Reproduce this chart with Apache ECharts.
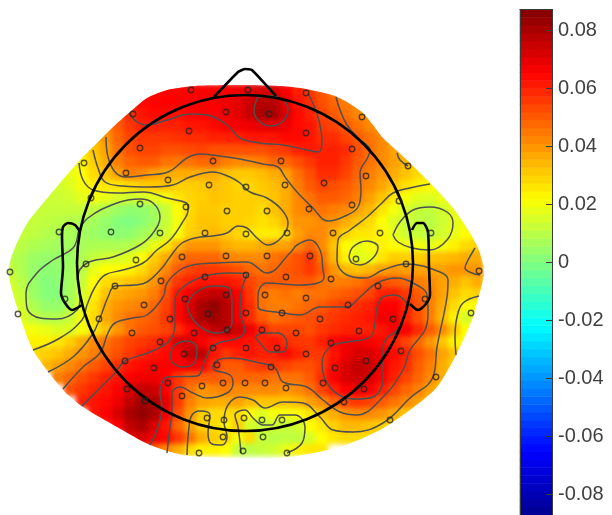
<!DOCTYPE html>
<html>
<head>
<meta charset="utf-8">
<style>
html,body{margin:0;padding:0;background:#fff}
#chart{width:612px;height:515px}
#chart canvas[data-zr-dom-id="zr_0"]{filter:blur(2.6px)}
#chart canvas[data-zr-dom-id="zr_1"]{filter:blur(0.4px)}
</style>
<script src="https://cdn.jsdelivr.net/npm/echarts@6/dist/echarts.min.js"></script>
</head>
<body>
<div id="chart"></div>
<script>
// Scalp map values in thousandths, one row per 12 px band, first cell at heatRowStart
const heatRowStart = [11,9,8,7,6,5,4,3,3,2,1,0,0,0,0,0,0,0,0,0,1,1,2,3,4,5,6,7,8,10,10];
const row090 = [62,64,65,65,65,66,66,67,68,70,72,72,66,60,56,50,45,42,40];
const row102 = [55,60,64,65,66,66,66,66,66,68,70,74,78,78,70,62,58,52,48,44,42,40];
const row114 = [46,52,58,62,64,64,63,65,66,66,68,70,75,80,80,72,64,60,54,50,46,42,40,38];
const row126 = [35,42,50,56,60,60,60,60,62,62,64,66,67,68,70,70,68,64,62,56,54,50,46,42,38,36];
const row138 = [28,33,40,48,54,56,56,56,57,58,58,60,60,60,62,62,62,64,64,62,58,58,54,50,46,42,38];
const row150 = [20,26,32,38,46,52,54,54,52,52,53,54,52,52,52,52,52,54,56,60,61,60,60,58,52,46,42,38,35];
const row162 = [16,19,24,30,36,44,48,50,50,46,45,46,48,48,44,42,42,44,48,48,52,56,60,60,56,50,46,42,38,34,30];
const row174 = [14,16,18,22,28,32,38,44,42,38,36,36,36,36,36,33,31,31,33,36,38,46,52,58,58,54,48,44,40,36,32,28,24,22];
const row186 = [14,14,16,20,24,26,26,28,30,31,32,30,30,31,33,31,29,29,31,33,36,44,50,54,52,50,46,42,37,32,27,24,22,20,18];
const row198 = [12,13,13,14,17,20,18,15,14,15,17,20,26,29,30,32,31,30,30,30,32,36,42,46,50,50,48,44,38,32,26,20,17,16,18,18,18];
const row210 = [12,12,12,12,12,12,11,8,5,3,3,6,12,22,28,31,31,30,30,30,28,32,36,42,44,46,44,42,38,34,26,20,15,12,11,14,18,20,22];
const row222 = [12,12,12,11,10,9,8,6,4,1,0,2,6,12,20,29,32,32,30,30,29,27,29,34,40,40,42,40,36,32,28,22,16,13,11,10,13,17,20,22];
const row234 = [13,12,11,9,8,7,6,5,3,2,3,6,9,14,21,30,32,34,32,29,26,25,25,28,38,42,42,36,29,26,26,23,18,13,12,11,14,18,22,24];
const row246 = [12,10,8,7,6,6,7,8,8,8,9,12,18,26,34,40,40,40,36,34,34,36,38,38,42,48,42,32,22,18,20,24,22,20,20,18,20,24,28,30];
const row258 = [10,8,5,4,4,5,8,12,14,15,17,22,30,36,44,48,48,48,44,42,42,42,46,48,52,56,46,34,24,17,18,26,30,30,30,32,33,34,36,36];
const row270 = [12,8,4,2,3,6,10,18,22,22,24,28,34,42,50,54,56,56,54,52,48,46,48,50,52,56,50,40,34,32,34,38,40,38,38,38,38,40,40,40];
const row282 = [14,10,4,1,2,6,12,22,28,30,32,34,40,48,56,60,62,62,62,60,54,50,50,50,50,50,46,44,44,46,50,52,50,48,44,42,38,36,32,36];
const row294 = [16,12,5,1,1,6,14,24,32,36,38,40,44,52,62,68,74,76,75,66,56,46,44,46,44,46,46,48,50,52,54,60,60,56,50,44,38,32,28,30];
const row306 = [18,14,8,4,4,8,17,27,36,40,42,44,48,54,64,72,80,84,78,68,58,46,44,44,46,48,50,54,56,58,60,66,66,60,52,44,36,28,22,22];
const row318 = [19,16,12,9,9,13,20,28,36,42,46,48,50,56,64,72,80,82,78,68,58,50,46,48,50,52,54,56,58,60,62,68,68,60,52,44,34,24,15,18];
const row330 = [20,20,18,16,16,20,26,32,40,46,50,52,54,58,64,70,76,78,74,68,60,54,54,54,52,56,58,60,60,60,62,66,66,58,50,42,32,22,15,15];
const row342 = [24,24,24,26,30,36,42,46,50,54,56,58,62,72,72,66,62,64,64,62,60,62,58,56,56,60,65,68,68,66,64,60,54,48,40,32,24,20];
const row354 = [28,30,32,36,40,44,48,52,56,60,62,64,66,76,76,62,56,60,62,60,60,64,60,56,56,62,68,72,72,68,64,60,52,46,38,32,26];
const row366 = [34,38,42,46,50,54,58,62,64,66,66,66,68,66,58,50,50,54,56,56,54,52,52,56,64,72,76,74,68,62,58,50,44,36,30];
const row378 = [44,48,52,56,60,62,66,68,68,66,56,50,50,50,48,48,48,48,46,46,46,50,58,66,72,74,72,66,60,54,48,42,36,30];
const row390 = [52,56,60,62,66,72,76,74,66,56,46,40,42,44,42,42,42,42,40,42,46,54,60,66,68,66,60,54,48,44,38,32];
const row402 = [60,62,64,68,76,82,80,70,56,44,38,36,36,38,34,32,32,32,34,38,42,48,54,56,54,50,46,42,38,34];
const row414 = [62,66,72,80,84,80,68,52,40,30,28,28,28,22,16,20,20,22,26,32,36,40,42,42,40,36,32,30];
const row426 = [60,66,76,80,72,62,48,38,30,28,24,30,14,12,14,12,14,22,26,30,34,34,32,30,28];
const row438 = [70,72,68,64,56,46,36,30,28,20,28,12,10,11,11,15,22,26,28,28,28,26];
const row450 = [60,54,48,42,36,28,24,24,22,12,10,12,14,18,24,26,26];
const row462 = [58,52,46,40,34,28,24,22,20,12,10,12,14,18,24,26,26];
const heatRows = [row090,row102,row114,row126,row138,row150,row162,row174,row186,row198,row210,row222,row234,row246,row258,row270,row282,row294,row306,row318,row330,row342,row354,row366,row378,row390,row402,row414,row426,row438,row450,row462];
const heatColumnCount = 41;

// Colour bar
const colorbarLevels = [-85.8,-83.1,-80.4,-77.6,-74.9,-72.2,-69.5,-66.7,-64.0,-61.3,-58.6,-55.9,-53.1,-50.4,-47.7,-45.0,-42.2,-39.5,-36.8,-34.1,-31.3,-28.6,-25.9,-23.2,-20.4,-17.7,-15.0,-12.3,-9.5,-6.8,-4.1,-1.4,1.4,4.1,6.8,9.5,12.3,15.0,17.7,20.4,23.2,25.9,28.6,31.3,34.1,36.8,39.5,42.2,45.0,47.7,50.4,53.1,55.9,58.6,61.3,64.0,66.7,69.5,72.2,74.9,77.6,80.4,83.1,85.8];
const colorbarTicks = [-0.08,-0.06,-0.04,-0.02,0,0.02,0.04,0.06,0.08];
const colorLimit = 0.0872;
const jetColors = ['#00008f','#0000ff','#0080ff','#00ffff','#80ff80','#ffff00','#ff8000','#ff0000','#800000'];

// Electrode locations
const electrodes = [[191,90],[248,90],[133,114],[226,112],[189,131],[140,148],[213,161],[84,163],[126,173],[168,180],[209,185],[246,187],[91,198],[140,204],[186,207],[227,211],[59,232],[111,232],[160,233],[205,233],[246,234],[86,264],[136,260],[182,257],[226,256],
[306,93],[269,114],[362,117],[306,133],[352,149],[281,161],[408,166],[366,176],[324,183],[285,185],[399,201],[352,205],[309,209],[267,211],[287,233],[333,233],[380,233],[431,233],[356,259],[310,256],[267,256],[406,264],[479,271],
[10,272],[115,286],[161,281],[205,277],[246,275],[65,299],[144,305],[185,299],[226,295],[18,314],[99,319],[170,319],[208,314],[246,313],[132,333],[194,333],[227,330],[160,342],[184,354],[213,348],[246,348],[125,361],[154,368],[217,365],[168,383],[202,386],[223,383],[245,383],[127,389],[145,401],[182,396],[207,418],[224,420],[244,418],[223,437],[199,453],[243,451],
[286,277],[331,279],[265,295],[306,298],[378,286],[425,299],[348,305],[282,313],[320,319],[393,319],[471,313],[262,330],[296,333],[359,331],[277,348],[331,343],[401,351],[306,354],[366,361],[335,368],[271,367],[265,383],[323,383],[286,388],[436,377],[364,389],[344,402],[390,420],[262,420],[282,420],[263,437],[287,453]];

// Contour lines
const contourTopRed = [[129,113],[137,122],[147,125],[167,120],[190,114],[207,115],[227,125],[240,138],[260,143],[283,145],[307,150],[318,152],[322,143],[318,117],[308,93]];
const contourFrontPeak = [[258,97],[254,110],[258,120],[270,126],[282,122],[288,110],[283,100],[270,96],[258,97]];
const contourFrontOrange = [[106,137],[108,157],[115,172],[126,177],[147,175],[168,172],[187,158],[200,154],[227,157],[240,159],[263,164],[278,167],[285,177],[297,192],[312,207],[328,221],[343,217],[358,207],[361,190],[360,173],[368,157],[370,150],[358,138],[347,125],[340,110],[336,97]];
const contourLeftOrange = [[93,150],[98,168],[105,182],[123,186],[150,187],[173,185],[190,177],[213,172],[230,177],[240,183],[250,192],[267,198],[282,210],[288,223],[282,237],[268,245],[257,238],[247,228],[238,226],[227,233],[213,236],[200,237],[182,243],[170,257],[162,268],[147,282],[135,285],[115,286],[108,297],[100,318],[92,335],[73,357],[48,372]];
const contourYellow = [[79,163],[83,180],[93,190],[117,193],[143,192],[167,198],[188,205],[188,210],[182,223],[170,240],[157,250],[143,263],[123,270],[105,275],[95,287],[87,305],[82,320],[60,338],[33,350]];
const contourGreen = [[78,233],[88,218],[117,203],[140,199],[153,203],[160,217],[153,233],[140,245],[113,257],[87,263],[78,277],[79,290],[80,298],[77,310],[57,319],[40,318],[27,308],[26,293],[37,273],[53,260],[73,248],[78,233]];
const contourCentre = [[63,389],[83,367],[100,353],[108,333],[115,323],[133,318],[147,315],[163,297],[167,283],[180,270],[193,265],[217,263],[247,262],[267,273],[290,253],[297,245],[310,240],[320,250],[323,270],[324,277],[318,283],[300,285],[267,283],[258,295],[258,307],[283,313],[300,315],[320,307],[347,307],[360,297],[377,283],[397,278],[413,283],[427,295],[428,313],[425,330],[410,350],[403,370],[383,397],[357,415],[340,412],[323,400],[307,387],[283,382],[275,368],[260,363],[230,358],[218,360],[213,367],[214,370],[230,375],[233,383],[227,393],[207,398],[193,393],[180,387],[172,393],[172,415],[170,427],[167,453]];
const contourRed = [[82,406],[100,388],[115,373],[125,361],[150,352],[170,340],[175,323],[175,300],[183,287],[205,276],[230,273],[247,274],[241,293],[240,313],[245,330],[238,338],[218,343],[210,350],[205,360],[197,376],[167,377],[162,383],[160,393],[162,407],[158,427],[150,445]];
const contourPeakMain = [[187,305],[195,293],[213,286],[227,287],[232,303],[232,323],[218,333],[205,330],[192,318],[187,305]];
const contourPeakSmall = [[170,355],[175,345],[187,341],[197,348],[195,362],[183,367],[173,363],[170,355]];
const contourMidLoop = [[255,337],[263,333],[278,333],[287,343],[283,352],[270,352],[260,343],[255,337]];
const contourRearYellow = [[187,455],[189,427],[192,415],[200,411],[210,415],[208,433],[212,444],[222,445],[227,437],[224,422],[228,405],[240,397],[253,400],[265,408],[283,402],[303,403],[320,417],[333,430],[353,432],[383,423],[410,398],[433,377],[437,347],[447,297],[448,280],[440,272],[406,264],[383,270],[365,278],[347,275],[337,260],[338,240],[350,230],[367,217],[382,203],[393,193],[410,188],[430,184]];
const contourRearGreen = [[241,453],[238,427],[235,415],[245,410],[253,418],[263,425],[272,425],[280,415],[295,415],[305,427],[302,443],[287,453]];
const contourEarRight = [[393,235],[400,222],[413,210],[430,207],[447,212],[453,223],[447,240],[430,250],[412,248],[398,242],[393,235]];
const contourTempRight = [[349,257],[353,247],[367,241],[378,247],[373,258],[360,265],[352,263],[349,257]];
const contourEdgeRight = [[475,248],[467,262],[465,268],[472,273],[480,275]];
const contourEdgeLow = [[479,296],[463,303],[457,317],[455,337],[456,355]];
const contourPariRed = [[407,303],[395,295],[383,297],[377,307],[375,323],[370,337],[347,342],[330,347],[322,363],[327,383],[343,397],[357,399],[373,397],[383,380],[383,347],[387,338],[397,330],[405,315],[407,303]];
const contourCorner = [[397,153],[400,160],[408,166]];
const contours = [contourTopRed,contourFrontPeak,contourFrontOrange,contourLeftOrange,contourYellow,contourGreen,contourCentre,contourRed,contourPeakMain,contourPeakSmall,contourMidLoop,contourRearYellow,contourRearGreen,contourEarRight,contourTempRight,contourEdgeRight,contourEdgeLow,contourPariRed,contourCorner];

// Head cartoon
const headCentre = [245,263];
const headRadius = 168;
const headNose = [[214,97],[238,72],[245,69],[252,70],[276,96]];
const headEarLeft = [[80,232],[75,225],[68,223],[63,227],[62,237],[63,267],[61,293],[65,303],[72,310],[82,305]];
const headEarRight = [[412,230],[417,223],[423,223],[428,232],[429,267],[430,295],[425,305],[418,310],[410,304]];

// Interpolation skirt outline, clockwise from the left
const skirtOutline = [[8,272],[10,262],[16,245],[28,222],[40,207],[60,183],[80,160],[97,143],[113,127],[130,112],[147,98],[167,90],[185,87],[200,85.5],[240,85],[280,86],[300,88],[320,92],[335,96],[347,102],[363,113],[373,125],[383,138],[407,160],[430,183],[453,208],[470,233],[478,248],[482,260],[484,272],[482,285],[478,298],[473,317],[457,353],[437,387],[410,410],[380,430],[340,447],[290,457],[260,458.5],[227,458],[183,455],[150,445],[117,427],[83,407],[63,390],[33,350],[17,307],[10,282]];
const maskFrame = [[0,272],[0,0],[510,0],[510,515],[0,515],[0,272]];

const heatData = [];
heatRows.forEach((row, r) => {
  row.forEach((v, k) => heatData.push([heatRowStart[r] + k, r, v / 1000]));
});
const colorbarData = colorbarLevels.map((v, k) => [0, k, v / 1000]);
const seq = n => Array.from({length:n}, (_, k) => String(k));

const chart = echarts.init(document.getElementById('chart'), null, {renderer:'canvas', width:612, height:515});
const plain = {show:false};
const lineSeries = (pts, width, color, z, smooth) => ({
  type:'line', xAxisIndex:1, yAxisIndex:1, data:pts, showSymbol:false, symbol:'none', smooth:smooth,
  clip:false, silent:true, zlevel:1, z:z, lineStyle:{color:color, width:width}
});

chart.setOption({
  animation:false,
  backgroundColor:'#ffffff',
  tooltip:{show:false},
  visualMap:{show:false, type:'continuous', seriesIndex:[0,1], dimension:2, min:-colorLimit, max:colorLimit, inRange:{color:jetColors}},
  grid:[
    {left:4, top:84, width:492, height:384},
    {left:0, top:0, width:612, height:515},
    {left:520, top:9.5, width:32, height:507},
    {left:520, top:9.5, width:32, height:507}
  ],
  xAxis:[
    {type:'category', gridIndex:0, data:seq(heatColumnCount), ...plain},
    {type:'value', gridIndex:1, min:0, max:612, ...plain},
    {type:'category', gridIndex:2, data:['0'], ...plain},
    {type:'value', gridIndex:3, position:'top', min:0, max:1, zlevel:1, z:10,
      axisLine:{show:true, onZero:false, lineStyle:{color:'#3a3a3a', width:1}}, axisTick:{show:false}, axisLabel:{show:false}, splitLine:{show:false}}
  ],
  yAxis:[
    {type:'category', gridIndex:0, inverse:true, data:seq(heatRows.length), ...plain},
    {type:'value', gridIndex:1, inverse:true, min:0, max:515, ...plain},
    {type:'category', gridIndex:2, data:seq(colorbarLevels.length), ...plain},
    {type:'value', gridIndex:3, position:'right', min:-colorLimit, max:colorLimit, zlevel:1, z:10,
      axisLine:{show:true, onZero:false, lineStyle:{color:'#3a3a3a', width:1}},
      axisTick:{show:true, inside:true, length:6, customValues:colorbarTicks, lineStyle:{color:'#3a3a3a', width:1}},
      axisLabel:{show:true, margin:6, customValues:colorbarTicks, color:'#404040', fontFamily:'Liberation Sans', fontSize:20,
        formatter:v => Math.abs(v) < 1e-9 ? '0' : Number(v).toFixed(2)},
      splitLine:{show:false}},
    {type:'value', gridIndex:3, position:'left', min:-colorLimit, max:colorLimit, zlevel:1, z:10,
      axisLine:{show:true, onZero:false, lineStyle:{color:'#3a3a3a', width:1}}, axisTick:{show:false}, axisLabel:{show:false}, splitLine:{show:false}}
  ],
  series:[
    {type:'heatmap', xAxisIndex:0, yAxisIndex:0, data:heatData, zlevel:0, silent:true, progressive:0},
    {type:'heatmap', xAxisIndex:2, yAxisIndex:2, data:colorbarData, zlevel:1, z:8, silent:true, progressive:0},
    {type:'custom', xAxisIndex:1, yAxisIndex:1, coordinateSystem:'cartesian2d', data:[[0,0]], zlevel:1, z:3, silent:true, clip:false,
      renderItem:(params, api) => ({
        type:'polygon',
        shape:{smooth:0.25, points:maskFrame.concat(skirtOutline.concat([skirtOutline[0]]).reverse()).map(p => api.coord(p))},
        style:{fill:'#ffffff', stroke:null}
      })},
    ...contours.map(c => lineSeries(c, 1.5, '#4f4f4f', 4, 0.4)),
    {type:'custom', xAxisIndex:1, yAxisIndex:1, coordinateSystem:'cartesian2d', data:[headCentre], zlevel:1, z:5, silent:true, clip:false,
      renderItem:(params, api) => {
        const c = api.coord(headCentre);
        return {type:'circle', shape:{cx:c[0], cy:c[1], r:api.size([headRadius,0])[0]}, style:{fill:'none', stroke:'#000', lineWidth:2.6}};
      }},
    lineSeries(headNose, 2.6, '#000', 5, 0.1),
    lineSeries(headEarLeft, 2.6, '#000', 5, 0.25),
    lineSeries(headEarRight, 2.6, '#000', 5, 0.25),
    {type:'scatter', xAxisIndex:1, yAxisIndex:1, data:electrodes, symbol:'circle', symbolSize:5.5, zlevel:1, z:6, silent:true, clip:false,
      itemStyle:{color:'rgba(0,0,0,0)', borderColor:'#222', borderWidth:1.4, opacity:0.75}}
  ]
});
</script>
</body>
</html>
